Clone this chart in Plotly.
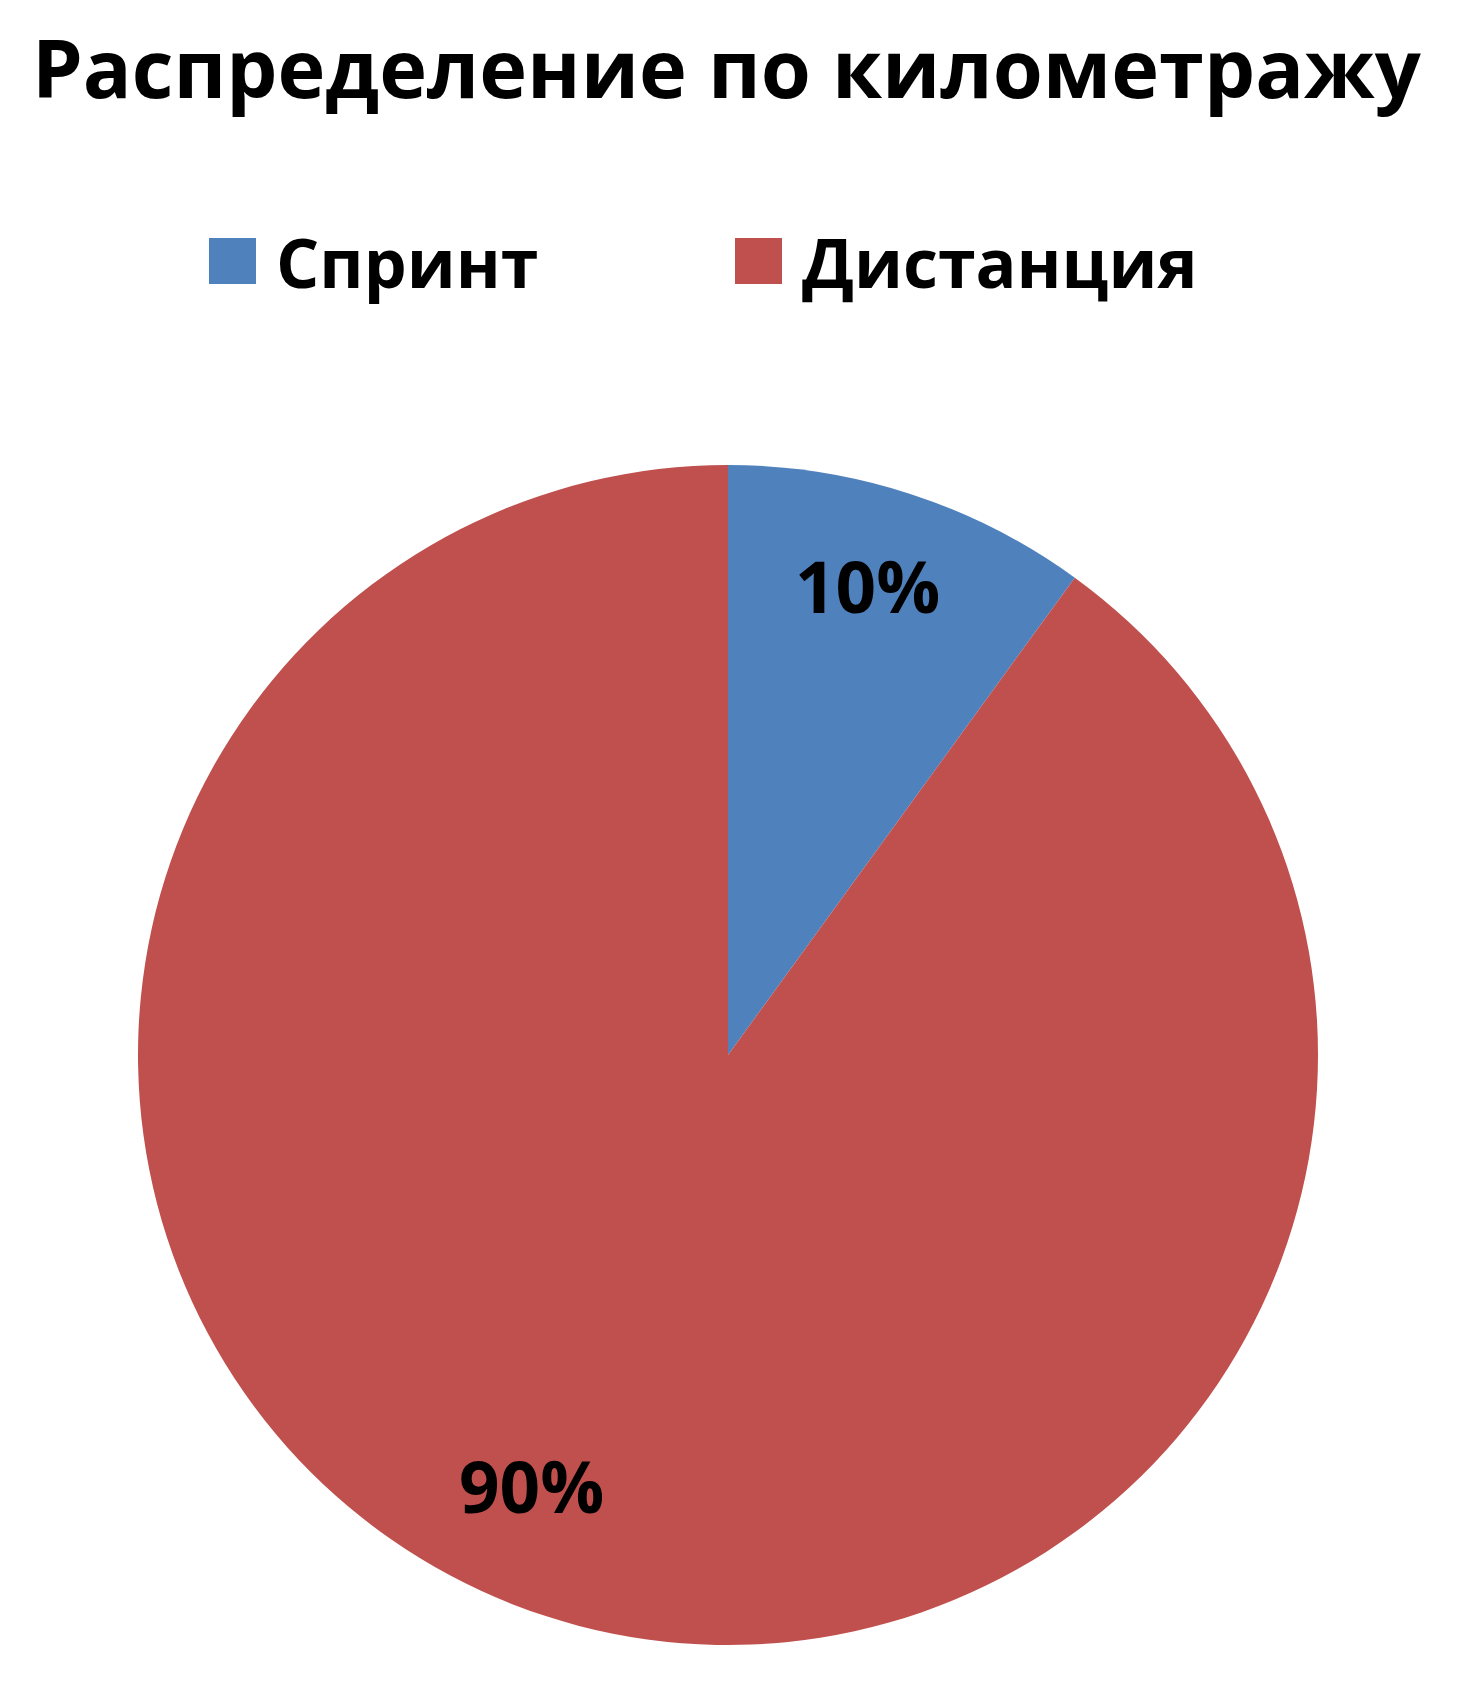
import math
import plotly.graph_objects as go

title_text = "Распределение по километражу"
categories = ["Спринт", "Дистанция"]
values = [10, 90]
colors = ["#4F81BD", "#C0504D"]

FONT = "Open Sans"
W, H = 1460, 1699

# pie domain (paper coords)
dx0, dx1 = 130 / W, 1310 / W
dy0, dy1 = 1 - 1637 / H, 1 - 457 / H

fig = go.Figure()
fig.add_trace(go.Pie(
    labels=categories,
    values=values,
    sort=False,
    direction="clockwise",
    rotation=0,
    marker=dict(colors=colors, line=dict(width=0)),
    textinfo="none",
    hoverinfo="label+percent",
    showlegend=False,
    domain=dict(x=[dx0, dx1], y=[dy0, dy1]),
))

# percentage labels placed from cumulative slice angles
label_shift = [(-10, 9), (-47, 30)]  # style nudges (px) to mimic the original placement
cx = (dx0 + dx1) / 2
cy = (dy0 + dy1) / 2
R_px = min((dx1 - dx0) * W, (dy1 - dy0) * H) / 2
total = sum(values)
cum = 0
annotations = []
for i, v in enumerate(values):
    mid = (cum + v / 2) / total * 2 * math.pi
    cum += v
    r = 0.82 * R_px
    px = cx + r * math.sin(mid) / W
    py = cy + r * math.cos(mid) / H
    annotations.append(dict(
        x=px, y=py, xref="paper", yref="paper", showarrow=False,
        text=f"<b>{round(v / total * 100)}%</b>",
        font=dict(family=FONT, size=71, color="#000000"),
        xanchor="center", yanchor="middle",
        xshift=label_shift[i][0], yshift=label_shift[i][1],
    ))

# title
annotations.append(dict(
    x=719 / W, y=1 - 58 / H, xref="paper", yref="paper", showarrow=False,
    text=f"<b>{title_text}</b>", font=dict(family=FONT, size=81, color="#000000"),
    xanchor="center", yanchor="middle",
))

# legend (manual, to match the large swatches)
legend_y = 1 - 253 / H
sw_x = [201, 727]
shapes = []
for i, (cat, col) in enumerate(zip(categories, colors)):
    x0 = sw_x[i]
    shapes.append(dict(
        type="rect", xref="paper", yref="paper",
        x0=x0 / W, x1=(x0 + 47) / W,
        y0=legend_y - 23 / H, y1=legend_y + 23 / H,
        fillcolor=col, line=dict(width=0),
    ))
    annotations.append(dict(
        x=(x0 + 65) / W, y=legend_y, xref="paper", yref="paper", showarrow=False,
        text=f"<b>{cat}</b>", font=dict(family=FONT, size=68, color="#000000"),
        xanchor="left", yanchor="middle",
    ))

fig.update_layout(
    width=W, height=H,
    margin=dict(l=0, r=0, t=0, b=0),
    paper_bgcolor="white", plot_bgcolor="white",
    annotations=annotations, shapes=shapes,
)

fig.write_html("out.html")
